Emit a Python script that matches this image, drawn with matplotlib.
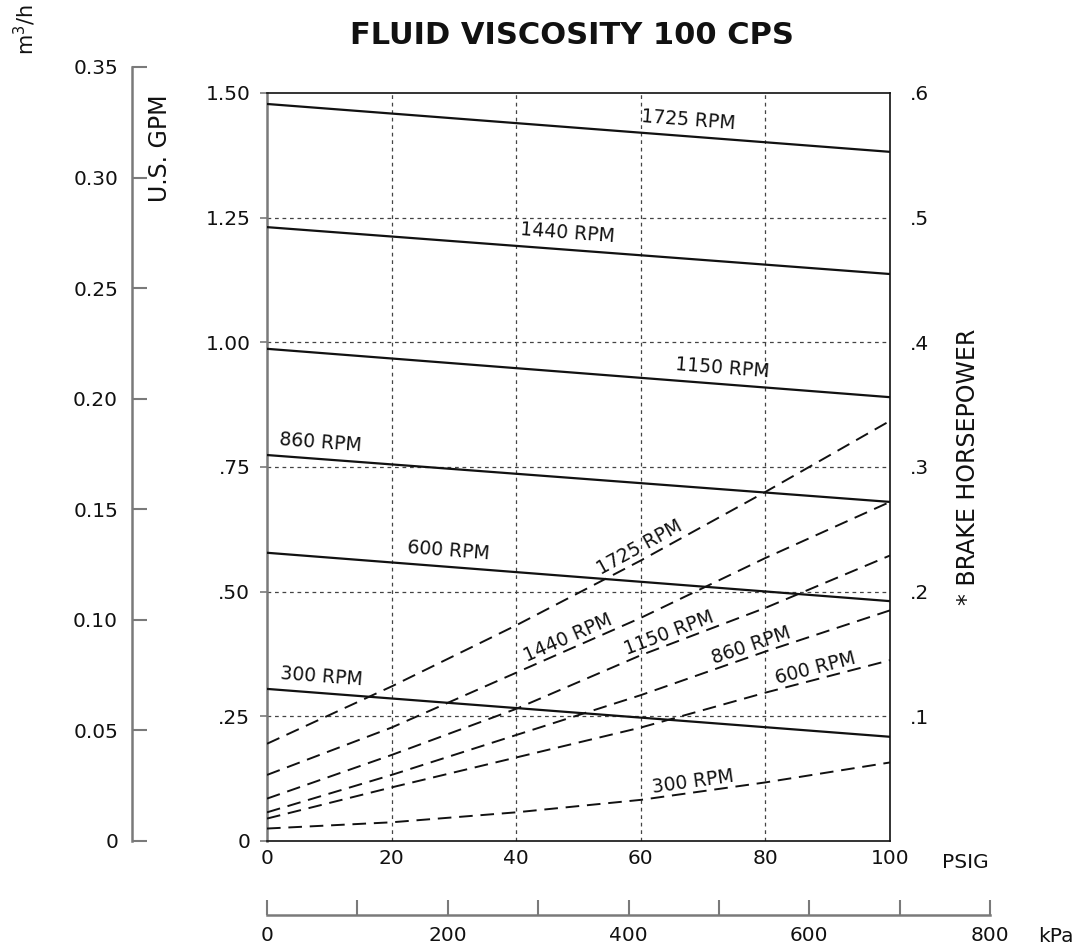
import numpy as np
import matplotlib
matplotlib.use("Agg")
import matplotlib.pyplot as plt

# pressure (PSIG) where values were read
psig = [0, 20, 40, 60, 80, 100]

# solid lines: capacity (U.S. GPM) at 0 and 100 PSIG
flow_psig = [0, 100]
flow_gpm = {
    "1725 RPM": [1.478, 1.382],
    "1440 RPM": [1.231, 1.137],
    "1150 RPM": [0.987, 0.890],
    "860 RPM": [0.774, 0.680],
    "600 RPM": [0.578, 0.481],
    "300 RPM": [0.305, 0.209],
}

# dashed lines: brake horsepower
bhp = {
    "1725 RPM": [0.078, 0.124, 0.173, 0.225, 0.280, 0.337],
    "1440 RPM": [0.053, 0.091, 0.135, 0.179, 0.227, 0.272],
    "1150 RPM": [0.034, 0.069, 0.106, 0.149, 0.187, 0.229],
    "860 RPM": [0.023, 0.053, 0.085, 0.117, 0.152, 0.185],
    "600 RPM": [0.018, 0.043, 0.067, 0.091, 0.119, 0.145],
    "300 RPM": [0.010, 0.015, 0.023, 0.033, 0.047, 0.063],
}

gpm_ticks = [0, 0.25, 0.5, 0.75, 1.0, 1.25, 1.5]
gpm_labels = ["0", ".25", ".50", ".75", "1.00", "1.25", "1.50"]
bhp_ticks = [0.1, 0.2, 0.3, 0.4, 0.5, 0.6]
bhp_labels = [".1", ".2", ".3", ".4", ".5", ".6"]
m3h_ticks = [0, 0.05, 0.10, 0.15, 0.20, 0.25, 0.30, 0.35]
m3h_labels = ["0", "0.05", "0.10", "0.15", "0.20", "0.25", "0.30", "0.35"]
kpa_major = [0, 200, 400, 600, 800]
kpa_minor = [100, 300, 500, 700]

# where each curve label starts (PSIG)
flow_label_x = {"1725 RPM": 60, "1440 RPM": 40.5, "1150 RPM": 65.5,
                "860 RPM": 1.8, "600 RPM": 22.5, "300 RPM": 2.1}
bhp_label_x = {"1725 RPM": 54, "1440 RPM": 42, "1150 RPM": 58,
               "860 RPM": 72, "600 RPM": 82, "300 RPM": 62}

W, H = 1091, 952
plt.rcParams["font.family"] = "DejaVu Sans"
ink = "#111111"
grey = "#7a7a7a"
fs = 14.5

fig = plt.figure(figsize=(W / 100, H / 100), dpi=100)

def fx(px):
    return px / W

def fy(py):
    return 1 - py / H

# main chart
ax = fig.add_axes([fx(267), fy(841), fx(890) - fx(267), fy(93) - fy(841)])
ax.set_xlim(0, 100)
ax.set_ylim(0, 1.5)
ax.set_xticks(psig)
ax.set_xticklabels([str(p) for p in psig])
ax.set_yticks(gpm_ticks)
ax.set_yticklabels(gpm_labels)
ax.tick_params(axis="x", length=0, pad=6, labelsize=fs, labelcolor=ink)
ax.tick_params(axis="y", length=5, width=1.2, color=grey, pad=7,
               labelsize=fs, labelcolor=ink)
for side in ["top", "right", "bottom"]:
    ax.spines[side].set_color(ink)
    ax.spines[side].set_linewidth(1.2)
ax.spines["left"].set_color(grey)
ax.spines["left"].set_linewidth(1.8)

for v in [20, 40, 60, 80]:
    ax.axvline(v, color="#444444", lw=0.9, ls=(0, (3, 3)), zorder=1)
for v in [0.25, 0.5, 0.75, 1.0, 1.25]:
    ax.axhline(v, color="#444444", lw=0.9, ls=(0, (3, 3)), zorder=1)

# brake horsepower axis on the right
ax2 = ax.twinx()
ax2.set_ylim(0, 0.6)
ax2.set_yticks(bhp_ticks)
ax2.set_yticklabels(bhp_labels)
ax2.tick_params(axis="y", length=0, pad=14, labelsize=fs, labelcolor=ink)
ax2.set_ylabel("* BRAKE HORSEPOWER", fontsize=17, color=ink, labelpad=20)
for s in ax2.spines.values():
    s.set_visible(False)

for name, vals in flow_gpm.items():
    ax.plot(flow_psig, vals, color=ink, lw=1.6, zorder=3)
for name, vals in bhp.items():
    ax2.plot(psig, vals, color=ink, lw=1.4, ls=(0, (7, 4)), zorder=3)

fig.canvas.draw()

def screen_angle(axis, xs, ys, x0):
    x1 = x0 + 4
    y0 = np.interp(x0, xs, ys)
    y1 = np.interp(x1, xs, ys)
    p0 = axis.transData.transform((x0, y0))
    p1 = axis.transData.transform((x1, y1))
    return np.degrees(np.arctan2(p1[1] - p0[1], p1[0] - p0[0]))

for name, vals in flow_gpm.items():
    x0 = flow_label_x[name]
    ang = screen_angle(ax, flow_psig, vals, x0 + 6)
    ax.annotate(name, (x0, np.interp(x0, flow_psig, vals)), xytext=(0, 5),
                textcoords="offset points", rotation=ang, rotation_mode="anchor",
                ha="left", va="bottom", fontsize=13.5, color=ink)

for name, vals in bhp.items():
    x0 = bhp_label_x[name]
    ang = screen_angle(ax2, psig, vals, x0 + 6)
    ax2.annotate(name, (x0, np.interp(x0, psig, vals)), xytext=(0, 1),
                 textcoords="offset points", rotation=ang, rotation_mode="anchor",
                 ha="left", va="bottom", fontsize=13.5, color=ink)

# m3/h scale on the far left
ax3 = fig.add_axes([fx(132), fy(841), 0.02, fy(67) - fy(841)])
ax3.set_ylim(0, 0.35)
ax3.set_yticks(m3h_ticks)
ax3.set_yticklabels(m3h_labels)
ax3.set_xticks([])
ax3.patch.set_visible(False)
for side in ["top", "right", "bottom"]:
    ax3.spines[side].set_visible(False)
ax3.spines["left"].set_color(grey)
ax3.spines["left"].set_linewidth(1.8)
ax3.tick_params(axis="y", direction="in", length=11, width=1.5, color=grey,
                pad=10, labelsize=fs, labelcolor=ink)

# kPa scale at the bottom
ax4 = fig.add_axes([fx(267), fy(915), fx(990) - fx(267), 0.01])
ax4.set_xlim(0, 800)
ax4.set_xticks(kpa_major)
ax4.set_xticklabels([str(k) for k in kpa_major])
ax4.set_xticks(kpa_minor, minor=True)
ax4.set_yticks([])
ax4.patch.set_visible(False)
for side in ["top", "right", "left"]:
    ax4.spines[side].set_visible(False)
ax4.spines["bottom"].set_color(grey)
ax4.spines["bottom"].set_linewidth(1.8)
ax4.tick_params(axis="x", which="both", direction="in", length=11, width=1.5,
                color=grey, pad=8, labelsize=fs, labelcolor=ink)

fig.text(fx(572), fy(35), "FLUID VISCOSITY 100 CPS", ha="center", va="center",
         fontsize=22, fontweight="bold", color=ink)
fig.text(fx(160), fy(95), "U.S. GPM", rotation=90, ha="center", va="top",
         fontsize=17, color=ink)
fig.text(fx(25), fy(30), "m$^3$/h", rotation=90, ha="center", va="center",
         fontsize=15, color=ink)
fig.text(fx(942), fy(862), "PSIG", ha="left", va="center", fontsize=fs, color=ink)
fig.text(fx(1038), fy(937), "kPa", ha="left", va="center", fontsize=fs, color=ink)

fig.savefig("out.png", dpi=100)
